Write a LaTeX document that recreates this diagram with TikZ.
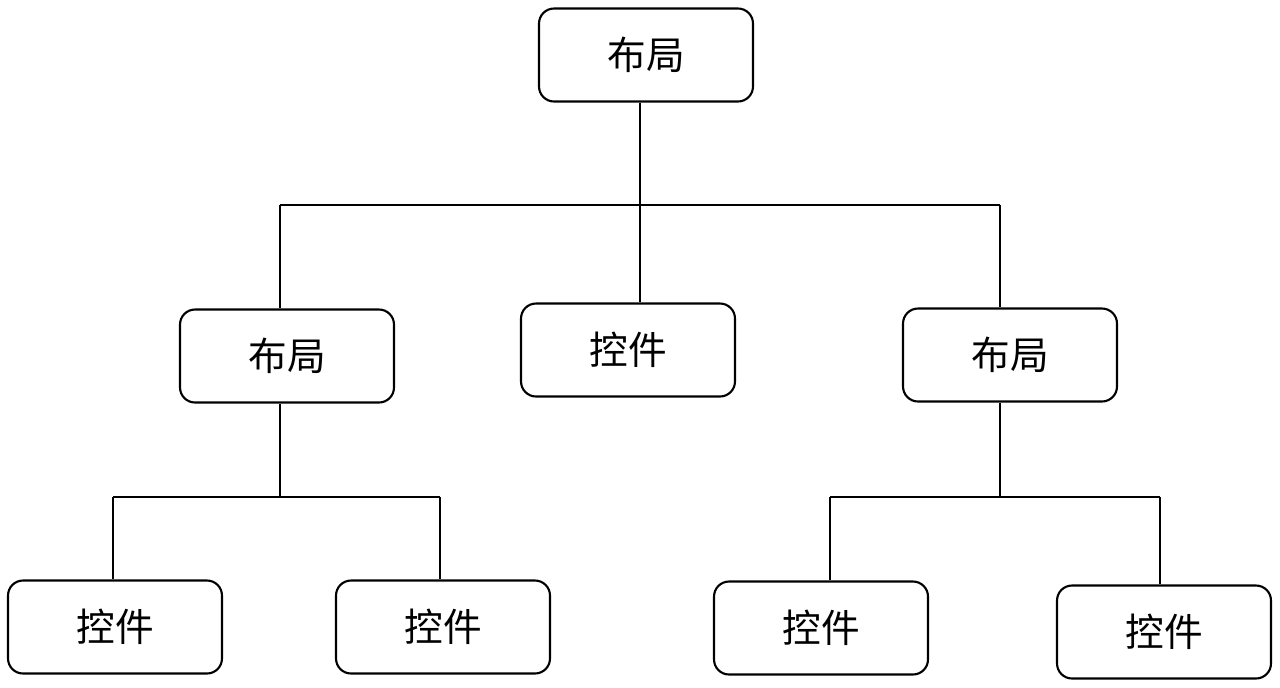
\documentclass[tikz,border=0pt]{standalone}
\usepackage{fontspec}
\newfontfamily\cjk{Noto Sans CJK SC}
\usetikzlibrary{positioning}

\begin{document}
\begin{tikzpicture}[x=0.02cm,y=-0.02cm,
  box/.style={draw,line width=1.2pt,rounded corners=0.3cm,minimum width=4.28cm,
    minimum height=1.86cm,font=\cjk\fontsize{22}{26}\selectfont},
  link/.style={line width=1.1pt}]
\useasboundingbox (0,0) rectangle (1280,687);

\node[box] (root) at (646,55) {布局};

\node[box] (l1) at (287,356) {布局};
\node[box] (c1) at (628,350) {控件};
\node[box] (r1) at (1010,355) {布局};

\node[box] (ll) at (115,627) {控件};
\node[box] (lr) at (443,627) {控件};
\node[box] (rl) at (821,628) {控件};
\node[box] (rr) at (1164,632) {控件};

% junctions
\coordinate (j0) at (640,205);
\coordinate (j0l) at (280,205);
\coordinate (j0r) at (1000,205);
\coordinate (jl) at (280,497);
\coordinate (jll) at (113,497);
\coordinate (jlr) at (440,497);
\coordinate (jr) at (1000,497);
\coordinate (jrl) at (830,497);
\coordinate (jrr) at (1160,497);

\draw[link] (root.south -| j0) -- (c1.north -| j0);
\draw[link] (j0l) -- (j0r);
\draw[link] (j0l) -- (l1.north -| j0l);
\draw[link] (j0r) -- (r1.north -| j0r);

\draw[link] (l1.south -| jl) -- (jl);
\draw[link] (jll) -- (jlr);
\draw[link] (jll) -- (ll.north -| jll);
\draw[link] (jlr) -- (lr.north -| jlr);

\draw[link] (r1.south -| jr) -- (jr);
\draw[link] (jrl) -- (jrr);
\draw[link] (jrl) -- (rl.north -| jrl);
\draw[link] (jrr) -- (rr.north -| jrr);
\end{tikzpicture}
\end{document}
